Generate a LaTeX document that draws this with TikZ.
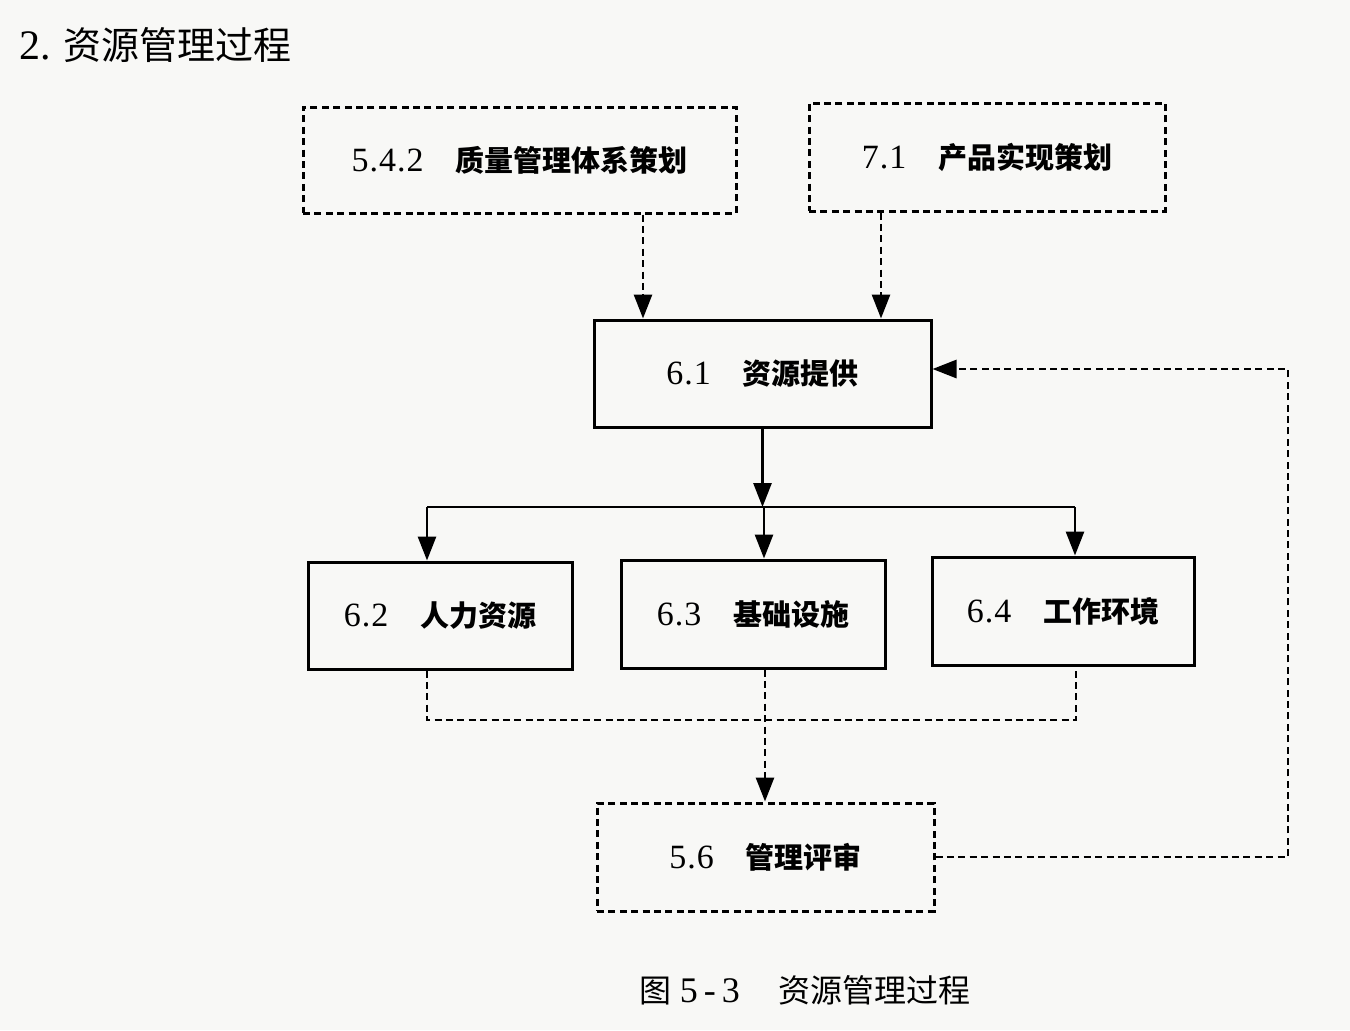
\documentclass[tikz,border=0pt]{standalone}
\usepackage{fontspec}
\setmainfont{Liberation Serif}
\newfontfamily\cjk{Noto Sans CJK SC}
\newfontfamily\numf[LetterSpace=3]{Liberation Serif}
\usetikzlibrary{arrows.meta}
\newcommand\boxlabel[2]{{\numf\fontsize{17pt}{19pt}\selectfont #1}\hspace{1.1em}{\cjk\bfseries #2}}
\tikzset{
  procbox/.style={draw=black, line width=1.5pt, inner sep=0pt, align=center,
    font=\fontsize{14.5pt}{17pt}\selectfont},
  dbox/.style={procbox, dash pattern=on 3.5pt off 2.2pt},
  link/.style={line width=1.4pt, -{Triangle[length=12pt,width=9pt]}},
  dlink/.style={line width=1.4pt, dash pattern=on 3.5pt off 2.2pt, -{Triangle[length=12pt,width=9pt]}},
  dline/.style={line width=1.4pt, dash pattern=on 3.5pt off 2.2pt},
  sline/.style={line width=1.4pt}
}
\begin{document}
\begin{tikzpicture}[x=0.5pt,y=-0.5pt]
\fill[fill={rgb,255:red,248;green,248;blue,246}] (0,0) rectangle (1350,1030);
\useasboundingbox (0,0) rectangle (1350,1030);

\node[anchor=west, font=\fontsize{21pt}{24pt}\selectfont] (title) at (12,45) {2.\hspace{0.3em}{\cjk\fontsize{19pt}{22pt}\selectfont 资源管理过程}};

\node[dbox, minimum width=216.5pt, minimum height=53pt] (A) at (519.5,160) {\boxlabel{5.4.2}{质量管理体系策划}};
\node[dbox, minimum width=178pt, minimum height=54pt] (B) at (987,157) {\boxlabel{7.1}{产品实现策划}};
\node[procbox, minimum width=168.5pt, minimum height=53.5pt] (C) at (762.5,373.5) {\boxlabel{6.1}{资源提供}};
\node[procbox, minimum width=132pt, minimum height=53.5pt] (D) at (440,615.5) {\boxlabel{6.2}{人力资源}};
\node[procbox, minimum width=132pt, minimum height=54pt] (E) at (753,614) {\boxlabel{6.3}{基础设施}};
\node[procbox, minimum width=131pt, minimum height=54pt] (F) at (1063,611) {\boxlabel{6.4}{工作环境}};
\node[dbox, minimum width=168.5pt, minimum height=54pt] (G) at (765.5,857) {\boxlabel{5.6}{管理评审}};

\node[font=\fontsize{16pt}{19pt}\selectfont] (cap) at (805,990) {{\cjk 图}\ {\numf\fontsize{18pt}{20pt}\selectfont 5\,-\,3}\hspace{1.2em}{\cjk 资源管理过程}};

% dashed inputs to 6.1
\coordinate (pa) at (643,213);
\coordinate (pb) at (881,211);
\draw[dlink] (pa |- A.south) -- (pa |- C.north);
\draw[dlink] (pb |- B.south) -- (pb |- C.north);

% distribution from 6.1
\coordinate (dD) at (427,507);
\coordinate (dE) at (764,507);
\coordinate (dF) at (1075,507);
\draw[link] (C.south) -- (C.south |- dE);
\draw[sline] (dD) -- (dF);
\draw[link] (dD) -- (dD |- D.north);
\draw[link] (dE) -- (dE |- E.north);
\draw[link] (dF) -- (dF |- F.north);

% dashed outputs to 5.6
\coordinate (bD) at (427,720);
\coordinate (bF) at (1076,720);
\coordinate (bE) at (765,720);
\draw[dline] (bD |- D.south) -- (bD) -- (bF) -- (bF |- F.south);
\draw[dlink] (bE |- E.south) -- (bE |- G.north);

% feedback loop
\coordinate (fb) at (1288,369);
\draw[dlink] (G.east) -- (G.east -| fb) -- (fb) -- (fb -| C.east);
\end{tikzpicture}
\end{document}
